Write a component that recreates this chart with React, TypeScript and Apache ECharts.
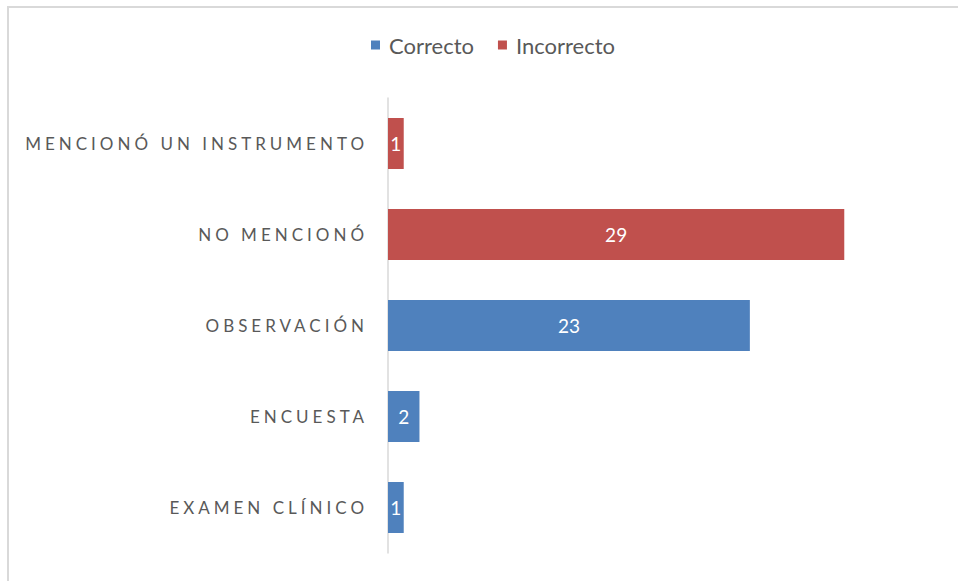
import React, { useEffect, useRef } from "react";
import * as echarts from "echarts";

const categories = [
  "EXAMEN CLÍNICO",
  "ENCUESTA",
  "OBSERVACIÓN",
  "NO MENCIONÓ",
  "MENCIONÓ UN INSTRUMENTO",
];
const correcto: (number | string)[] = [1, 2, 23, "-", "-"];
const incorrecto: (number | string)[] = ["-", "-", "-", 29, 1];
const seriesNames = ["Correcto", "Incorrecto"];
const axisMax = 30;

export default function App() {
  const ref = useRef<HTMLDivElement>(null);
  useEffect(() => {
    if (!ref.current) return;
    const chart = echarts.init(ref.current, null, { renderer: "svg" });
    const font = "Lato, 'Open Sans', sans-serif";
    chart.setOption({
      animation: false,
      backgroundColor: "#ffffff",
      textStyle: { fontFamily: font },
      graphic: [
        {
          type: "rect",
          shape: { x: 8, y: 7, width: 1200, height: 1200 },
          style: { fill: "none", stroke: "#d9d9d9", lineWidth: 2 },
          silent: true,
          z: -10,
        },
      ],
      legend: {
        top: 29,
        left: 366,
        itemWidth: 9,
        itemHeight: 9,
        itemGap: 24,
        icon: "rect",
        textStyle: { color: "#595959", fontSize: 22, fontFamily: font, padding: [0, 0, 0, 4] },
        data: seriesNames,
      },
      grid: { left: 388, top: 98, right: 98, bottom: 28, containLabel: false },
      xAxis: {
        type: "value",
        min: 0,
        max: axisMax,
        show: false,
        splitLine: { show: false },
      },
      yAxis: {
        type: "category",
        data: categories,
        axisLine: { show: true, lineStyle: { color: "#d9d9d9", width: 1.5 } },
        axisTick: { show: false },
        axisLabel: { color: "#595959", fontSize: 17, fontFamily: font, margin: 20 },
      },
      series: [
        {
          name: seriesNames[0],
          type: "bar",
          stack: "total",
          data: correcto,
          barCategoryGap: "44%",
          itemStyle: { color: "#4f81bd" },
          label: { show: true, position: "inside", color: "#ffffff", fontSize: 19, fontFamily: font },
        },
        {
          name: seriesNames[1],
          type: "bar",
          stack: "total",
          data: incorrecto,
          barCategoryGap: "44%",
          itemStyle: { color: "#c0504d" },
          label: { show: true, position: "inside", color: "#ffffff", fontSize: 19, fontFamily: font },
        },
      ],
    });
    const applySpacing = () => {
      ref.current?.querySelectorAll("text").forEach((t) => {
        if (categories.includes((t.textContent || "").trim())) {
          (t as SVGTextElement).style.letterSpacing = "4px";
        }
      });
    };
    applySpacing();
    chart.on("finished", applySpacing);
    return () => chart.dispose();
  }, []);
  return (
    <div
      ref={ref}
      style={{ width: 958, height: 581, position: "fixed", left: 0, top: 0 }}
    />
  );
}
